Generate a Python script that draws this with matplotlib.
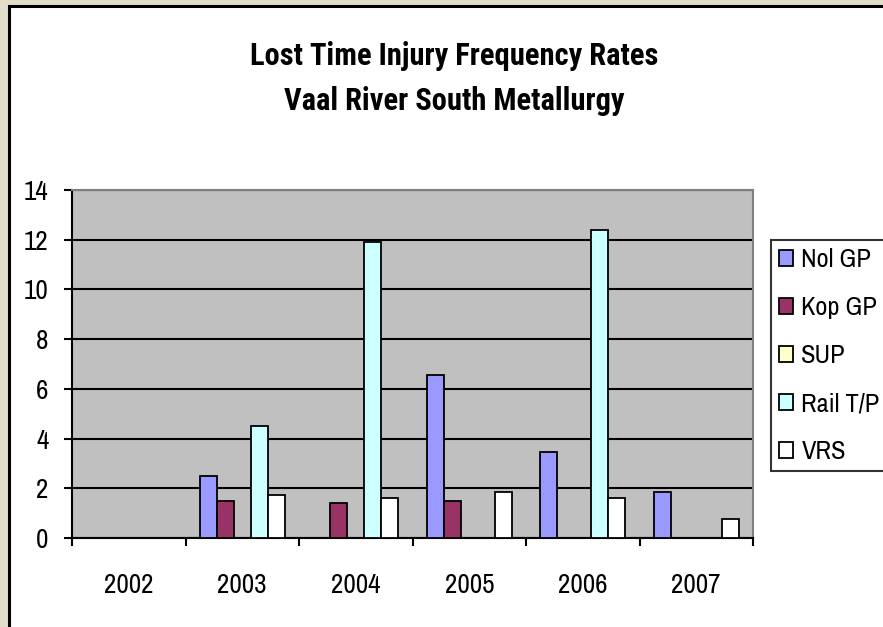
import matplotlib
matplotlib.use("Agg")
import matplotlib.pyplot as plt
from matplotlib.patches import Rectangle
import numpy as np

categories = ['2002', '2003', '2004', '2005', '2006', '2007']
series_names = ['Nol GP', 'Kop GP', 'SUP', 'Rail T/P', 'VRS']
nol_gp = [0, 2.5, 0, 6.55, 3.45, 1.85]
kop_gp = [0, 1.5, 1.4, 1.5, 0, 0]
sup = [0, 0, 0, 0, 0, 0]
rail_tp = [0, 4.5, 11.9, 0, 12.4, 0]
vrs = [0, 1.75, 1.6, 1.85, 1.6, 0.75]
series_values = [nol_gp, kop_gp, sup, rail_tp, vrs]
colors = ['#9999FF', '#993366', '#FFFFCC', '#CCFFFF', '#FFFFFF']
y_ticks = [0, 2, 4, 6, 8, 10, 12, 14]

FONT = ['Archivo Narrow', 'Liberation Sans', 'DejaVu Sans']
TITLE_FONT = ['Roboto Condensed', 'Liberation Sans', 'DejaVu Sans']
plt.rcParams['font.family'] = FONT

W, H = 883, 627
fig = plt.figure(figsize=(W / 100, H / 100), dpi=100)
fig.patch.set_facecolor('#E3DECA')

# white chart panel with black border
panel = Rectangle((8.5 / W, -0.1), 1.0, 1.1 - 6 / H, transform=fig.transFigure,
                  facecolor='white', edgecolor='black', linewidth=2.2, zorder=-5)
fig.add_artist(panel)

ax = fig.add_axes([72 / W, 1 - 538 / H, (753 - 72) / W, (538 - 190) / H])
ax.set_zorder(1)
ax.set_facecolor('#C0C0C0')

n = len(series_values)
bw = 0.15
x = np.arange(len(categories)) + 0.5
for i, (name, vals, c) in enumerate(zip(series_names, series_values, colors)):
    offs = (i - (n - 1) / 2) * bw
    ax.bar(x + offs, vals, width=bw, color=c, edgecolor='black', linewidth=1.3,
           label=name, zorder=3)

ax.set_xlim(0, len(categories))
ax.set_ylim(0, 14)
ax.set_yticks(y_ticks)
ax.yaxis.grid(True, color='black', linewidth=1.5, zorder=1)
ax.set_axisbelow(True)

ax.set_xticks(np.arange(len(categories) + 1))
ax.set_xticklabels([])
ax.set_xticks(x, minor=True)
ax.set_xticklabels(categories, minor=True)
ax.tick_params(axis='x', which='major', direction='out', length=6, width=1.5, color='black')
ax.tick_params(axis='x', which='minor', length=0, pad=25, labelsize=19.5)
ax.tick_params(axis='y', direction='out', length=6, width=1.5, pad=11, labelsize=19.5)

for s in ['left', 'bottom']:
    ax.spines[s].set_color('black')
    ax.spines[s].set_linewidth(1.5)
for s in ['top', 'right']:
    ax.spines[s].set_color('#808080')
    ax.spines[s].set_linewidth(1.5)

fig.text(454 / W, 1 - 65 / H, 'Lost Time Injury Frequency Rates', ha='center', va='baseline',
         fontsize=22, fontweight='bold', family=TITLE_FONT)
fig.text(454 / W, 1 - 110 / H, 'Vaal River South Metallurgy', ha='center', va='baseline',
         fontsize=22, fontweight='bold', family=TITLE_FONT)

leg = ax.legend(loc='upper left', bbox_to_anchor=(771 / W, 1 - 240 / H),
                bbox_transform=fig.transFigure, borderaxespad=0, fontsize=19,
                handlelength=0.55, handleheight=0.55, handletextpad=0.3,
                labelspacing=0.95, borderpad=0.3, frameon=True, fancybox=False)
leg.get_frame().set_edgecolor('black')
leg.get_frame().set_linewidth(1.5)

fig.savefig('out.png', dpi=100, facecolor=fig.get_facecolor())
